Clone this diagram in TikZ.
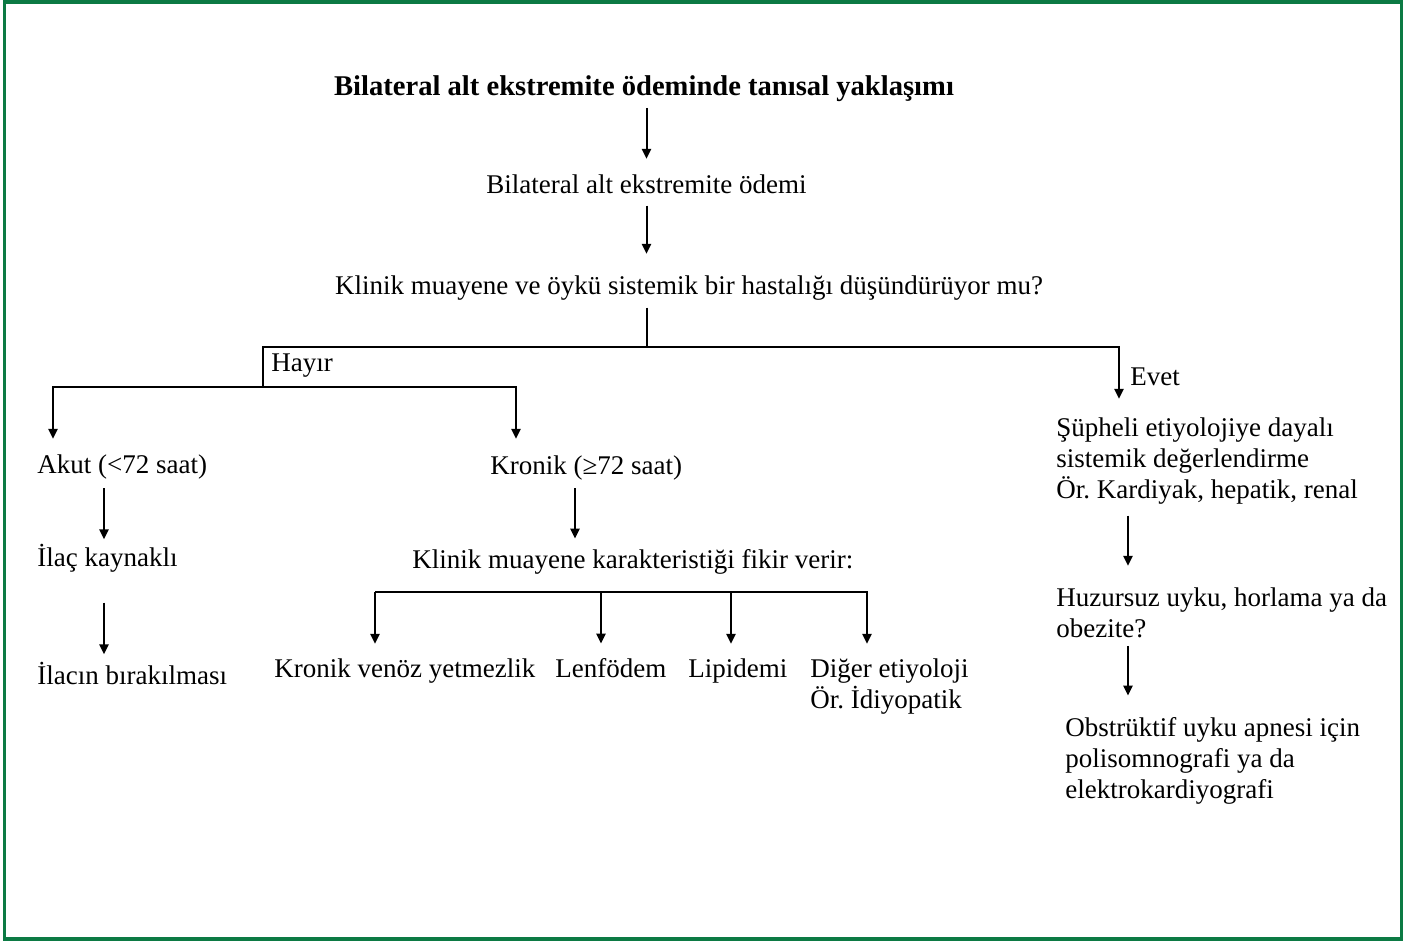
\documentclass[tikz,border=0pt]{standalone}
\usepackage{fontspec}
\setmainfont{Liberation Serif}
\usetikzlibrary{arrows.meta}
\definecolor{framegreen}{RGB}{12,122,68}
\frenchspacing
\begin{document}
\begin{tikzpicture}[x=0.5pt,y=-0.5pt,
  lbl/.style={inner sep=0pt, align=left, font=\fontsize{13.5}{15.5}\selectfont},
  arr/.style={-{Triangle[length=5pt,width=4.6pt]}, line width=1pt},
  ln/.style={line width=1pt}]
\useasboundingbox (0,0) rectangle (1405,941);
\draw[framegreen, line width=1.8pt] (4.5,2) rectangle (1401.5,939);
% top of the tree
\node[lbl, anchor=base, font=\fontsize{14.3}{15.5}\selectfont\bfseries] (title) at (644,96) {Bilateral alt ekstremite ödeminde tanısal yaklaşımı};
\node[lbl, anchor=base] (oedema) at (646.5,194) {Bilateral alt ekstremite ödemi};
\node[lbl, anchor=base] (question) at (689,295) {Klinik muayene ve öykü sistemik bir hastalığı düşündürüyor mu?};
\node[lbl, anchor=base west] (hayir) at (271,372) {Hayır};
\node[lbl, anchor=base west] (evet) at (1130,386) {Evet};
% left branch
\node[lbl, anchor=base west] (akut) at (37,474) {Akut (<72 saat)};
\node[lbl, anchor=base west] (ilac) at (37,567) {İlaç kaynaklı};
\node[lbl, anchor=base west] (birak) at (37,684) {İlacın bırakılması};
\node[lbl, anchor=base west] (kronik) at (490,475) {Kronik (≥72 saat)};
\node[lbl, anchor=base west] (klinik) at (412,568) {Klinik muayene karakteristiği fikir verir:};
\node[lbl, anchor=base west] (kvy) at (274,677) {Kronik venöz yetmezlik};
\node[lbl, anchor=base west] (lenf) at (555,677) {Lenfödem};
\node[lbl, anchor=base west] (lip) at (688,677) {Lipidemi};
\node[lbl, anchor=base west] (diger) at (810,708) {Diğer etiyoloji\\Ör. İdiyopatik};
% right branch
\node[lbl, anchor=base west] (sys) at (1056,499) {Şüpheli etiyolojiye dayalı\\sistemik değerlendirme\\Ör. Kardiyak, hepatik, renal};
\node[lbl, anchor=base west] (huz) at (1056,638) {Huzursuz uyku, horlama ya da\\obezite?};
\node[lbl, anchor=base west] (osa) at (1065,798) {Obstrüktif uyku apnesi için\\polisomnografi ya da\\elektrokardiyografi};
\coordinate (split) at (647,347);
\coordinate (nobar) at (263,387);
\coordinate (barl) at (375,592);
% connectors
\draw[arr, shorten <=2.7pt, shorten >=8pt] (title.south -| oedema.north) -- (oedema.north);
\draw[arr, shorten <=5.5pt, shorten >=11pt] (oedema.south) -- (oedema.south |- question.north);
\draw[ln, shorten <=3.2pt] (question.south -| split) -- (split);
\draw[ln] (split) -| (nobar);
\draw[arr, shorten >=9.5pt] (split) -| ([xshift=31.5pt]sys.north west);
\draw[arr, shorten >=8pt] (nobar) -| ([xshift=8pt]akut.north west);
\draw[arr, shorten >=8.5pt] (nobar) -| ([xshift=13pt]kronik.north west);
\draw[arr, shorten <=4pt, shorten >=2.5pt] ([xshift=33.5pt]akut.south west) -- ([xshift=33.5pt]ilac.north west);
\draw[arr, shorten <=14.7pt, shorten >=3.5pt] ([xshift=33.5pt]ilac.south west) -- ([xshift=33.5pt]birak.north west);
\draw[arr, shorten <=3.5pt, shorten >=5pt] ([xshift=42.5pt]kronik.south west) -- ([xshift=81.5pt]klinik.north west);
\draw[arr, shorten >=7pt] (barl) -| ([xshift=50.5pt]kvy.north west);
\draw[arr, shorten >=7pt] (barl) -| ([xshift=23pt]lenf.north west);
\draw[arr, shorten >=7pt] (barl) -| ([xshift=21.5pt]lip.north west);
\draw[arr, shorten >=7pt] (barl) -| ([xshift=28.5pt]diger.north west);
\draw[arr, shorten <=5.2pt, shorten >=11pt] ([xshift=36pt]sys.south west) -- ([xshift=36pt]huz.north west);
\draw[arr, shorten <=3.5pt, shorten >=10.5pt] ([xshift=36pt]huz.south west) -- ([xshift=31.5pt]osa.north west);
\end{tikzpicture}
\end{document}
